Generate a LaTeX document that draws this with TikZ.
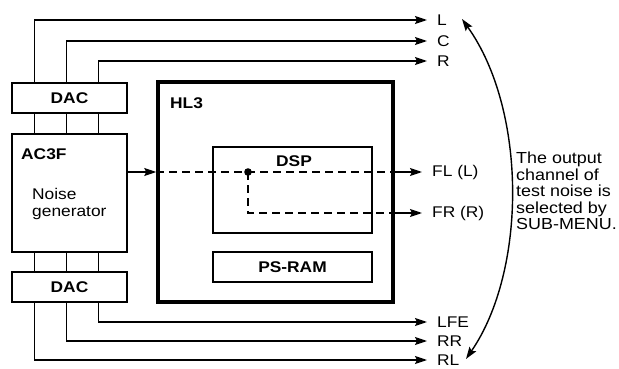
\documentclass[tikz,border=0pt]{standalone}
\usepackage{fontspec}
\setmainfont{Liberation Sans}[FakeStretch=1.12]
\usetikzlibrary{arrows.meta}
\begin{document}
\begin{tikzpicture}[x=1pt,y=-1pt,
  box/.style={draw,line width=2.5pt,minimum width=115pt,minimum height=30pt,inner sep=0pt,font=\fontsize{15.5}{18}\selectfont\bfseries},
  bigbox/.style={draw,line width=3.5pt,inner sep=0pt},
  inbox/.style={draw,line width=2.5pt,minimum width=159pt,inner sep=0pt,font=\fontsize{15.5}{18}\selectfont\bfseries},
  ttl/.style={anchor=north west,inner sep=0pt,font=\fontsize{15.5}{18}\selectfont\bfseries},
  lab/.style={anchor=west,inner xsep=10pt,inner ysep=0pt,font=\fontsize{15.5}{18}\selectfont},
  ln/.style={line width=1.4pt},
  arr/.style={line width=1.4pt,-{Stealth[length=12pt,width=8pt,inset=2pt]}},
  dsh/.style={line width=1.4pt,dash pattern=on 8pt off 5pt},
]
\useasboundingbox (0,0) rectangle (619,369);
% boxes
\node[box] (dacT) at (69.5,98) {DAC};
\node[box,minimum height=118pt] (ac3f) at (69.5,193) {};
\node[box] (dacB) at (69.5,287) {DAC};
\node[bigbox,minimum width=235pt,minimum height=220pt] (hl3) at (275.5,192) {};
\node[inbox,minimum height=86pt] (dsp) at (292.5,190) {};
\node[inbox,minimum height=30pt] (psram) at (292.5,267) {PS-RAM};
% titles
\node[ttl] (ac3ft) at (21,148) {AC3F};
\node[anchor=north west,inner sep=0pt,align=left,font=\fontsize{15.5}{17}\selectfont] (noise) at (32,188) {Noise\\generator};
\node[ttl] (hl3t) at (170,97) {HL3};
\node[ttl,anchor=north] (dspt) at (294,155) {DSP};
% output labels
\node[lab] (L) at (427,20) {L};
\node[lab] (C) at (427,41) {C};
\node[lab] (R) at (427,61) {R};
\node[lab] (FL) at (422,172) {FL (L)};
\node[lab] (FR) at (422,213) {FR (R)};
\node[lab] (LFE) at (427,322) {LFE};
\node[lab] (RR) at (427,341) {RR};
\node[lab] (RL) at (427,360) {RL};
% top connectors
\draw[arr] ([xshift=24pt]dacT.north west) |- (L.west);
\draw[arr] ([xshift=56pt]dacT.north west) |- (C.west);
\draw[arr] ([xshift=88pt]dacT.north west) |- (R.west);
\foreach \s in {24,56,88} {
  \draw[ln] ([xshift=\s pt]dacT.south west) -- ([xshift=\s pt]ac3f.north west);
  \draw[ln] ([xshift=\s pt]ac3f.south west) -- ([xshift=\s pt]dacB.north west);
}
% bottom connectors
\draw[arr] ([xshift=88pt]dacB.south west) |- (LFE.west);
\draw[arr] ([xshift=56pt]dacB.south west) |- (RR.west);
\draw[arr] ([xshift=24pt]dacB.south west) |- (RL.west);
% signal path
\coordinate (j) at (248,172);
\coordinate (k) at (248,213);
\draw[arr] (ac3f.east |- j) -- (hl3.west |- j);
\draw[dsh] (hl3.west |- j) -- (hl3.east |- j);
\draw[arr] (hl3.east |- j) -- (FL.west);
\draw[dsh] (j) -- (k) -- (hl3.east |- k);
\draw[arr] (hl3.east |- k) -- (FR.west);
\fill (j) circle (3.8pt);
% selection arc
\coordinate (ct) at (462,19);
\coordinate (cb) at (466,359);
\draw[line width=1.4pt,{Stealth[length=12pt,width=8pt,inset=2pt]}-{Stealth[length=12pt,width=8pt,inset=2pt]}] (ct) .. controls (527,110) and (527,270) .. (cb);
\node[anchor=north west,inner sep=0pt,align=left,font=\fontsize{16}{16.5}\selectfont] (note) at (516,152) {The output\\channel of\\test noise is\\selected by\\SUB-MENU.};
\end{tikzpicture}
\end{document}
